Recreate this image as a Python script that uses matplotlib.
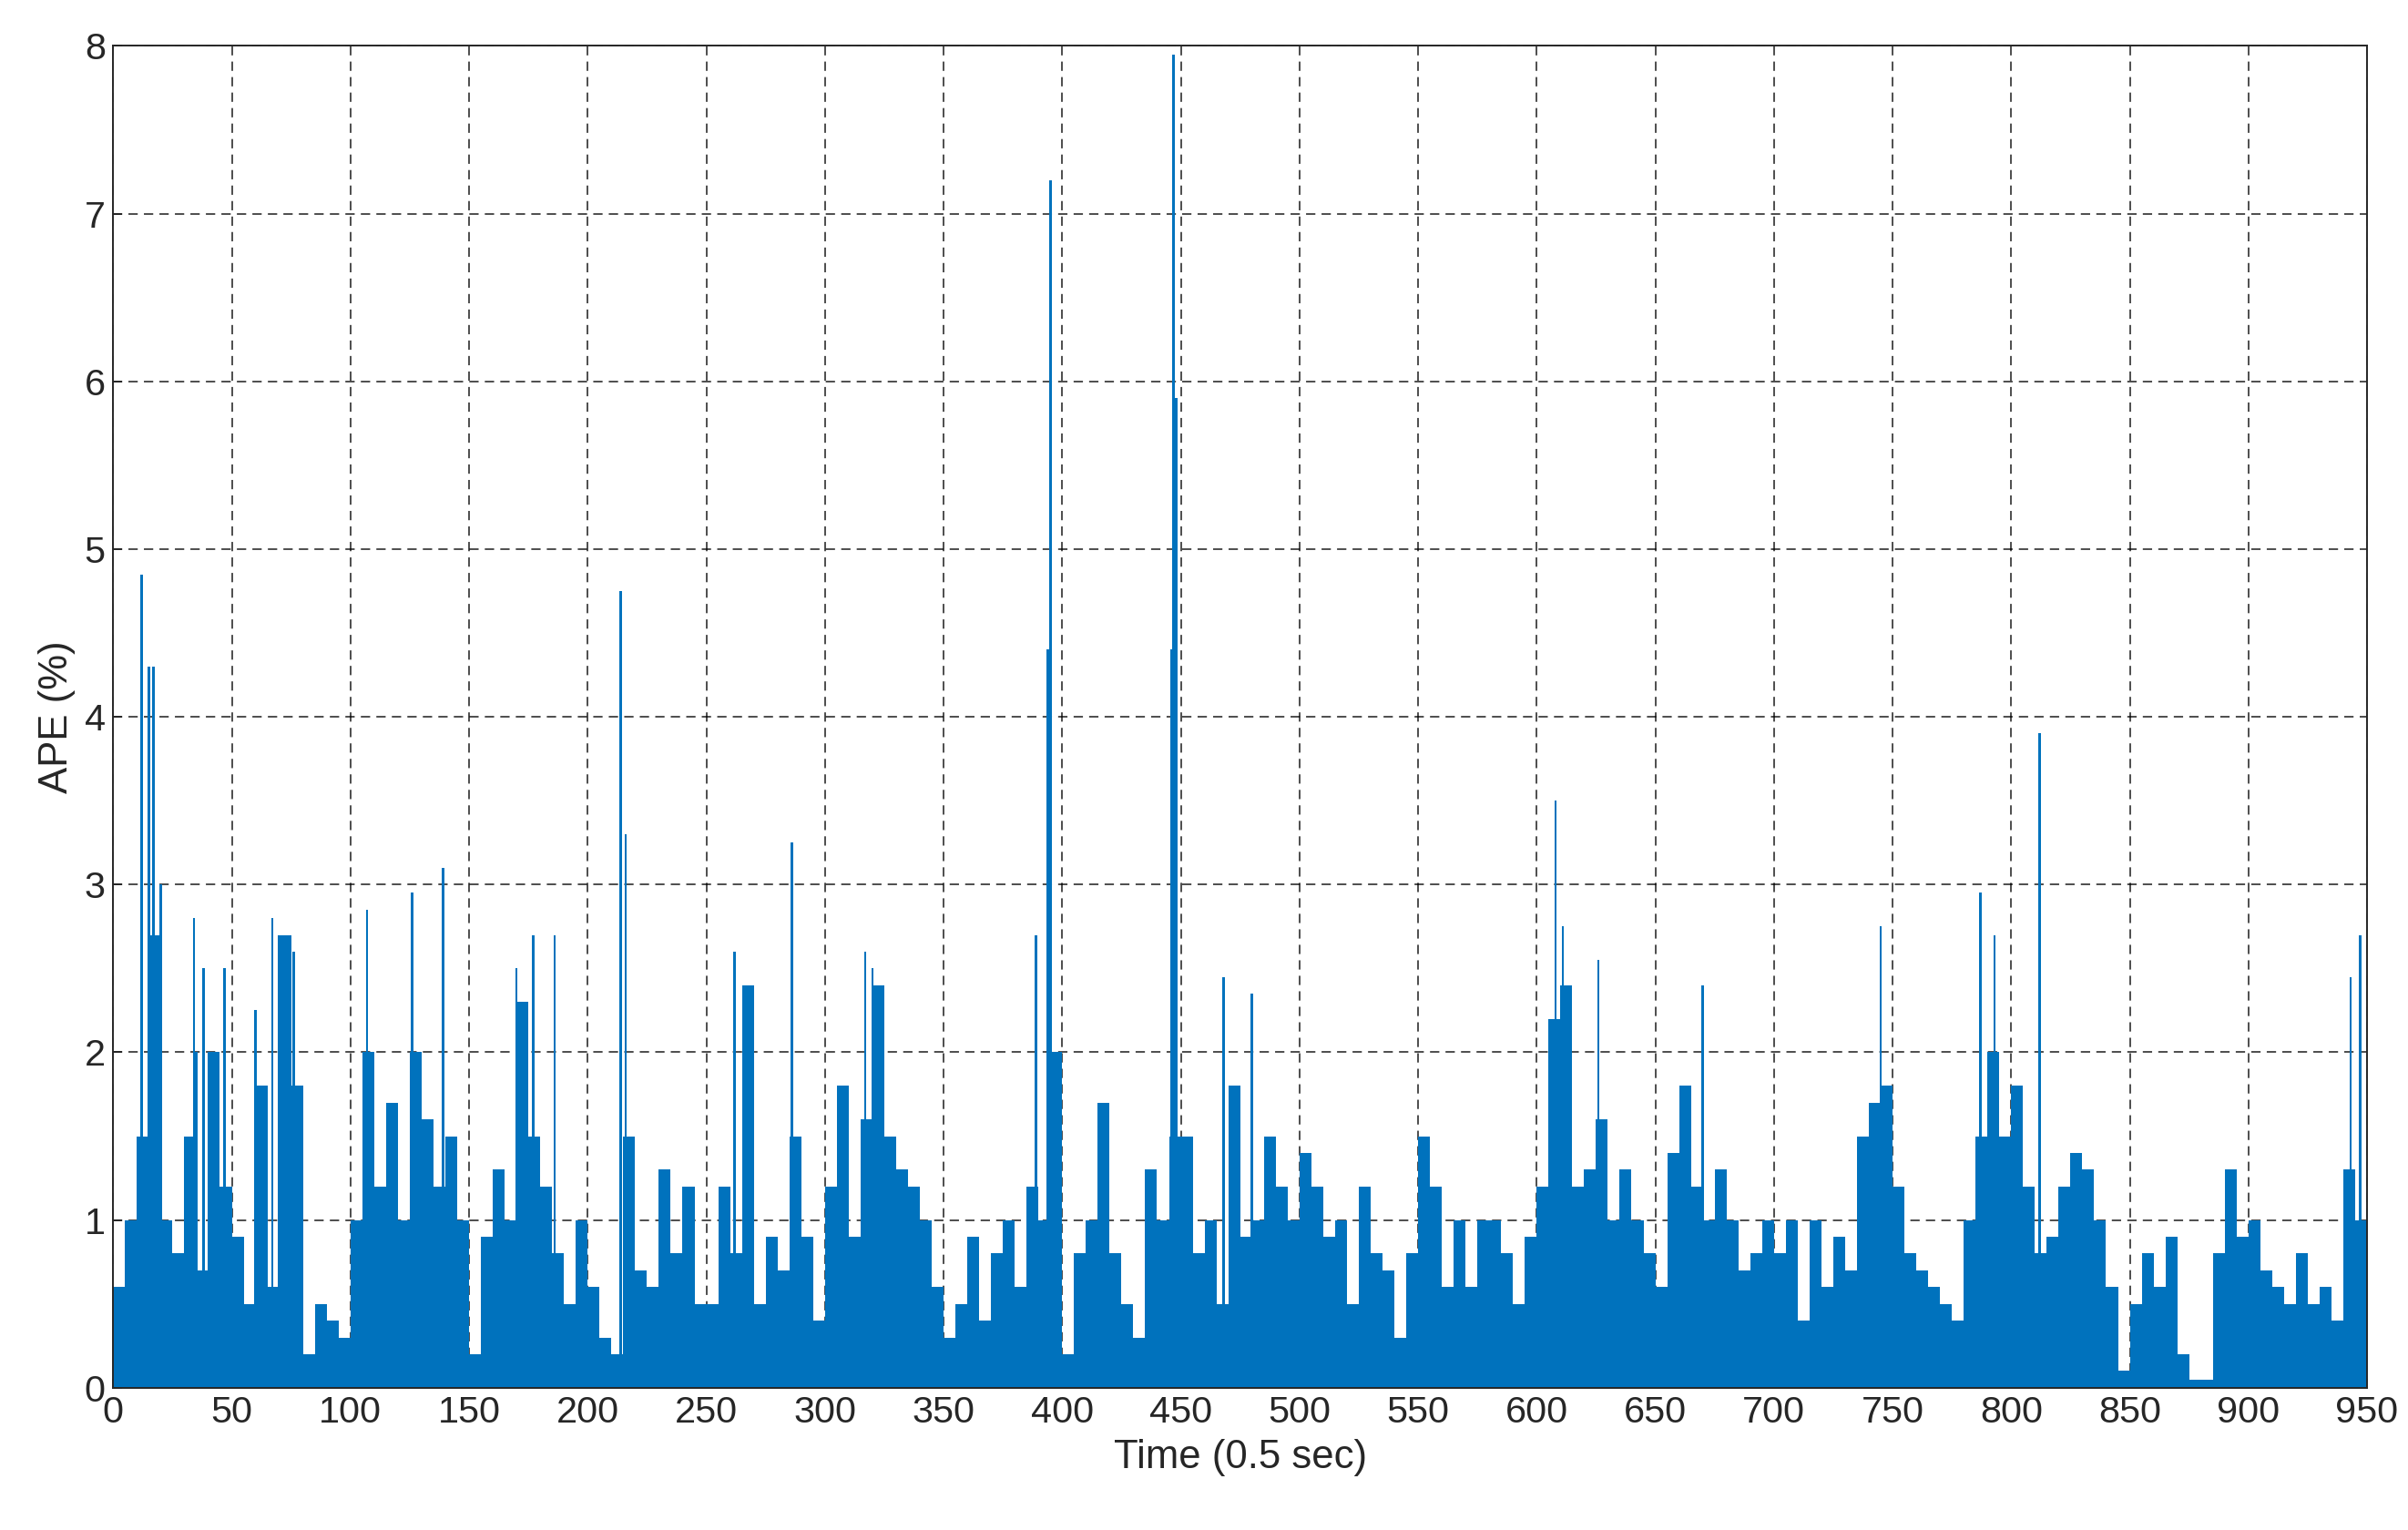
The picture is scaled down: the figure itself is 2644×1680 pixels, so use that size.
import numpy as np
import matplotlib
matplotlib.use("Agg")
import matplotlib.pyplot as plt

plt.rcParams["font.family"] = ["Liberation Sans", "DejaVu Sans"]

# base APE level per 5-step block
block_start = np.arange(0, 950, 5)
block_ape = [
    0.6, 1.0, 1.5, 2.7, 1.0, 0.8, 1.5, 0.7, 2.0, 1.2,
    0.9, 0.5, 1.8, 0.6, 2.7, 1.8, 0.2, 0.5, 0.4, 0.3,
    1.0, 2.0, 1.2, 1.7, 1.0, 2.0, 1.6, 1.2, 1.5, 1.0,
    0.2, 0.9, 1.3, 1.0, 2.3, 1.5, 1.2, 0.8, 0.5, 1.0,
    0.6, 0.3, 0.2, 1.5, 0.7, 0.6, 1.3, 0.8, 1.2, 0.5,
    0.5, 1.2, 0.8, 2.4, 0.5, 0.9, 0.7, 1.5, 0.9, 0.4,
    1.2, 1.8, 0.9, 1.6, 2.4, 1.5, 1.3, 1.2, 1.0, 0.6,
    0.3, 0.5, 0.9, 0.4, 0.8, 1.0, 0.6, 1.2, 1.0, 2.0,
    0.2, 0.8, 1.0, 1.7, 0.8, 0.5, 0.3, 1.3, 1.0, 1.5,
    1.5, 0.8, 1.0, 0.5, 1.8, 0.9, 1.0, 1.5, 1.2, 1.0,
    1.4, 1.2, 0.9, 1.0, 0.5, 1.2, 0.8, 0.7, 0.3, 0.8,
    1.5, 1.2, 0.6, 1.0, 0.6, 1.0, 1.0, 0.8, 0.5, 0.9,
    1.2, 2.2, 2.4, 1.2, 1.3, 1.6, 1.0, 1.3, 1.0, 0.8,
    0.6, 1.4, 1.8, 1.2, 1.0, 1.3, 1.0, 0.7, 0.8, 1.0,
    0.8, 1.0, 0.4, 1.0, 0.6, 0.9, 0.7, 1.5, 1.7, 1.8,
    1.2, 0.8, 0.7, 0.6, 0.5, 0.4, 1.0, 1.5, 2.0, 1.5,
    1.8, 1.2, 0.8, 0.9, 1.2, 1.4, 1.3, 1.0, 0.6, 0.1,
    0.5, 0.8, 0.6, 0.9, 0.2, 0.05, 0.05, 0.8, 1.3, 0.9,
    1.0, 0.7, 0.6, 0.5, 0.8, 0.5, 0.6, 0.4, 1.3, 1.0,
]

# narrow spikes above the base level
spike_time = [12, 15, 17, 20, 34, 35, 38, 47, 60, 67, 70, 76, 107, 126, 139,
              170, 177, 186, 214, 216, 262, 286, 317, 320, 389, 394, 395, 446,
              447, 448, 468, 480, 608, 611, 626, 670, 745, 787, 793, 812, 943, 947]
spike_ape = [4.85, 4.3, 4.3, 3.0, 2.8, 2.0, 2.5, 2.5, 2.25, 2.8, 2.7, 2.6, 2.85, 2.95, 3.1,
             2.5, 2.7, 2.7, 4.75, 3.3, 2.6, 3.25, 2.6, 2.5, 2.7, 4.4, 7.2, 4.4,
             7.95, 5.9, 2.45, 2.35, 3.5, 2.75, 2.55, 2.4, 2.75, 2.95, 2.7, 3.9, 2.45, 2.7]

color = "#0072BD"
fig = plt.figure(figsize=(2644 / 175, 1680 / 175), dpi=175)
ax = fig.add_axes([0.047, 0.093, 0.936, 0.877])
ax.bar(block_start, block_ape, width=5, align="edge", color=color, linewidth=0)
ax.bar(spike_time, spike_ape, width=1, color=color, linewidth=0)

ax.set_xlim(0, 950)
ax.set_ylim(0, 8)
ax.set_xticks(np.arange(0, 951, 50))
ax.set_yticks(np.arange(0, 9, 1))
ax.grid(True, color="black", linestyle=(0, (6, 4)), linewidth=0.7, alpha=0.8)
ax.set_axisbelow(True)
ax.tick_params(labelsize=17, direction="in", length=4, colors="#262626")
ax.set_xlabel("Time (0.5 sec)", fontsize=18, color="#262626")
ax.set_ylabel("APE (%)", fontsize=18, color="#262626")
for s in ax.spines.values():
    s.set_color("#262626")
fig.savefig("out.png", dpi=175)
